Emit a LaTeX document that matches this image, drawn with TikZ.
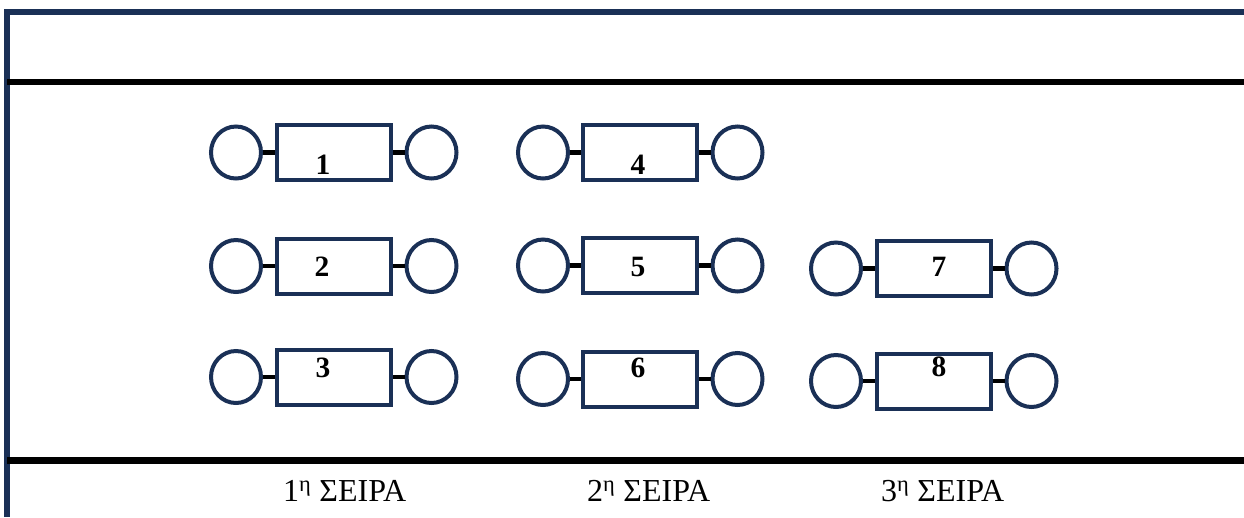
\documentclass[tikz,border=0pt]{standalone}
\usepackage{fontspec}
\setmainfont{Liberation Serif}
\usetikzlibrary{shapes.geometric}
\definecolor{navy}{RGB}{26,48,86}
\tikzset{
  frameline/.style={draw=navy,line width=6pt},
  rule/.style={draw=black,line width=6pt},
  unitbox/.style={draw=navy,line width=4pt,rectangle,minimum width=114pt,minimum height=55pt,inner sep=0pt},
  wheel/.style={draw=navy,line width=4pt,ellipse,minimum width=50pt,minimum height=52pt,inner sep=0pt},
  conn/.style={draw=black,line width=4.5pt},
  num/.style={inner sep=0pt,font=\fontsize{29.5}{34}\selectfont\bfseries},
  rowlabel/.style={inner sep=0pt,anchor=base west,font=\fontsize{32}{38}\selectfont}
}
\newcommand{\unitgroup}[6]{%
  % #1 name, #2 box x-centre, #3 y, #4 left circle x, #5 right circle x
  \node[unitbox] (b#1) at (#2,#3) {};
  \node[wheel] (l#1) at (#4,#3) {};
  \node[wheel] (r#1) at (#5,#3) {};
  \draw[conn] (l#1.east) -- (b#1.west);
  \draw[conn] (b#1.east) -- (r#1.west);
}
\begin{document}
\begin{tikzpicture}[x=1pt,y=-1pt]
\useasboundingbox (0,0) rectangle (1244,517);
% frame
\coordinate (tl) at (7,12);
\coordinate (tr) at (1244,12);
\coordinate (bl) at (7,517);
\draw[frameline] (4,12) -- (tr);
\draw[frameline] (7,9) -- (bl);
% rules
\coordinate (h1a) at (7,82);
\coordinate (h1b) at (1244,82);
\coordinate (h2a) at (7,460.5);
\coordinate (h2b) at (1244,460.5);
\draw[rule] (h1a) -- (h1b);
\draw[rule,line width=7pt] (h2a) -- (h2b);
% column 1
\unitgroup{1}{334}{152.5}{236}{431.5}{}
\unitgroup{2}{334}{266}{236}{431.5}{}
\unitgroup{3}{334}{377}{236}{431.5}{}
% column 2
\unitgroup{4}{640}{152.5}{543}{737.5}{}
\unitgroup{5}{640}{265.5}{543}{737.5}{}
\unitgroup{6}{640}{379}{543}{737.5}{}
% column 3
\unitgroup{7}{934}{268.5}{836}{1031.5}{}
\unitgroup{8}{934}{381}{836}{1031.5}{}
% numbers
\node[num] (t1) at (323,164.5) {1};
\node[num] (t2) at (322,267) {2};
\node[num] (t3) at (323,367.5) {3};
\node[num] (t4) at (638,165) {4};
\node[num] (t5) at (638,267) {5};
\node[num] (t6) at (638,368) {6};
\node[num] (t7) at (939,266.5) {7};
\node[num] (t8) at (939,367) {8};
% row labels
\node[rowlabel] (s1) at (283,501) {1\textsuperscript{η} ΣΕΙΡΑ};
\node[rowlabel] (s2) at (587,501) {2\textsuperscript{η} ΣΕΙΡΑ};
\node[rowlabel] (s3) at (881,501) {3\textsuperscript{η} ΣΕΙΡΑ};
\end{tikzpicture}
\end{document}
